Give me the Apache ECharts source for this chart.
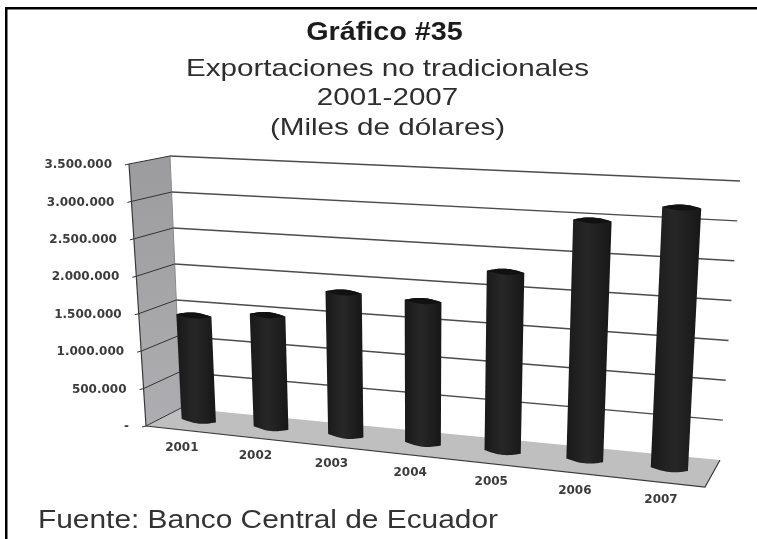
<!DOCTYPE html>
<html><head><meta charset="utf-8">
<style>html,body{margin:0;padding:0;background:#fff}#c{width:757px;height:539px;filter:blur(0.5px)}</style>
<script src="https://cdn.jsdelivr.net/npm/echarts@6/dist/echarts.min.js"></script>
</head><body><div id="c"></div>
<script>
const years = ['2001','2002','2003','2004','2005','2006','2007'];
const exportsValues = [1420000,1500000,1870000,1830000,2270000,2970000,3180000];
const tickValues = [0,500000,1000000,1500000,2000000,2500000,3000000,3500000];
const tickLabels = ['-','500.000','1.000.000','1.500.000','2.000.000','2.500.000','3.000.000','3.500.000'];
const titleText = 'Gráfico #35';
const subtitleLines = ['Exportaciones no tradicionales','2001-2007','(Miles de dólares)'];
const sourceText = 'Fuente: Banco Central de Ecuador';

// perspective box (screen corners of the chart's 3D frame)
const F00=[146,426],F10=[705,487],F01=[129,164],F11=[717,185];
const B00=[181,408],B10=[720,460],B01=[170,156],B11=[740,181];
const BAR_DEPTH=0.5;
const lerp=(a,b,k)=>[a[0]+(b[0]-a[0])*k,a[1]+(b[1]-a[1])*k];
function warp(s,t,d){
  const p=s-0.11*s*(1-s);
  const fb=lerp(F00,F10,p),ft=lerp(F01,F11,p),bb=lerp(B00,B10,p),bt=lerp(B01,B11,p);
  return lerp(lerp(fb,bb,d),lerp(ft,bt,d),t);
}
function norm(params,pt){
  const c=params.coordSys;
  return [(pt[0]-c.x)/c.width,1-(pt[1]-c.y)/c.height];
}
function renderFrame(){
  const P=warp;
  return {type:'group',children:[
    {type:'polygon',shape:{points:[P(0,1,0),P(0,1,1),P(0,0,1),P(0,0,0)]},
     style:{fill:new echarts.graphic.LinearGradient(0,0,0,1,[{offset:0,color:'#9c9c9e'},{offset:1,color:'#aeaeb2'}])}},
    {type:'polygon',shape:{points:[P(0,0,0),P(0,0,1),P(1,0,1),P(1,0,0)]},style:{fill:'#bfbfbf'}},
    {type:'polyline',shape:{points:[P(0,1,0),P(0,0,0),P(1,0,0),P(1,0,1)]},style:{stroke:'#3a3a3a',lineWidth:1.2,fill:'none'}},
    {type:'line',shape:{x1:P(0,1,1)[0],y1:P(0,1,1)[1],x2:P(0,0,1)[0],y2:P(0,0,1)[1]},style:{stroke:'#8a8a8a',lineWidth:1}}
  ]};
}
function renderGrid(params,api){
  const t=norm(params,api.coord([0,api.value(0)]))[1];
  const a=warp(0,t,0),b=warp(0,t,1),c=warp(1,t,1),o=[a[0]-4,a[1]+1];
  const kids=[{type:'polyline',shape:{points:[o,a,b]},style:{stroke:'#333',lineWidth:1,fill:'none'}}];
  if(t>0) kids.push({type:'line',shape:{x1:b[0],y1:b[1],x2:c[0],y2:c[1]},style:{stroke:'#4c4c4c',lineWidth:1.4}});
  kids.push({type:'text',style:{text:tickLabels[params.dataIndex],x:a[0]-17,y:a[1]+1,align:'right',verticalAlign:'middle',
    font:'bold 12px "DejaVu Sans"',fill:'#3c3c3c'}});
  return {type:'group',children:kids};
}
function renderBar(params,api){
  const i=api.value(0),v=api.value(1);
  const s=norm(params,api.coord([i,0]))[0];
  const t=norm(params,api.coord([i,v]))[1];
  const slope=1-0.11*(1-2*s);
  const hw=api.size([1,0])[0]*0.217*(1+0.1*s)/slope/params.coordSys.width;
  const bl=warp(s-hw,0,BAR_DEPTH),br=warp(s+hw,0,BAR_DEPTH),tl=warp(s-hw,t,BAR_DEPTH),tr=warp(s+hw,t,BAR_DEPTH);
  const ry=3,pts=[],top=[],N=16;
  for(let k=0;k<=N;k++){const a=k/N,x=lerp(tl,tr,a);pts.push([x[0],x[1]-ry*Math.sin(Math.PI*a)]);}
  for(let k=0;k<=N;k++){const a=k/N,x=lerp(br,bl,a);pts.push([x[0],x[1]+ry*Math.sin(Math.PI*a)]);}
  for(let k=0;k<=N;k++){const a=k/N,x=lerp(tl,tr,a);top.push([x[0],x[1]-ry*Math.sin(Math.PI*a)]);}
  for(let k=0;k<=N;k++){const a=k/N,x=lerp(tr,tl,a);top.push([x[0],x[1]+ry*Math.sin(Math.PI*a)]);}
  return {type:'group',children:[
    {type:'polygon',shape:{points:pts},style:{fill:new echarts.graphic.LinearGradient(0,0,1,0,[
      {offset:0,color:'#191919'},{offset:0.45,color:'#272727'},{offset:1,color:'#171717'}])}},
    {type:'polygon',shape:{points:top},style:{fill:'#111'}}
  ]};
}
function renderCat(params,api){
  const i=api.value(0);
  const s=norm(params,api.coord([i,0]))[0];
  const a=warp(s,0,0);
  return {type:'text',style:{text:years[i],x:a[0],y:a[1]+18,align:'center',verticalAlign:'middle',
    font:'bold 12px "DejaVu Sans"',fill:'#3c3c3c'}};
}
const wide=(text,x,y,sx,font,fill,align)=>({type:'text',x,y,scaleX:sx,z:60,
  style:{text,font,fill,textAlign:align,textVerticalAlign:'middle'}});
const chart=echarts.init(document.getElementById('c'),null,{renderer:'canvas'});
chart.setOption({
  animation:false,
  backgroundColor:'#fff',
  grid:{left:146,top:164,width:559,height:262},
  xAxis:{type:'category',data:years,show:false},
  yAxis:{type:'value',min:0,max:3500000,interval:500000,show:false},
  graphic:[
    {type:'rect',shape:{x:5,y:7,width:752,height:2.5},style:{fill:'#000'},z:50},
    {type:'rect',shape:{x:5,y:7,width:2.5,height:532},style:{fill:'#000'},z:50},
    wide(titleText,384.5,33,1.15,'bold 25px "Liberation Sans"','#1c1c1c','center'),
    wide(subtitleLines[0],387.5,69,1.233,'24px "Liberation Sans"','#2e2e2e','center'),
    wide(subtitleLines[1],387.5,98,1.233,'24px "Liberation Sans"','#2e2e2e','center'),
    wide(subtitleLines[2],387.5,128,1.233,'24px "Liberation Sans"','#2e2e2e','center'),
    wide(sourceText,38,521,1.195,'25px "Liberation Sans"','#333','left')
  ],
  series:[
    {type:'custom',coordinateSystem:'cartesian2d',clip:false,silent:true,z:1,renderItem:renderFrame,data:[[0,0]]},
    {type:'custom',coordinateSystem:'cartesian2d',clip:false,silent:true,z:2,renderItem:renderGrid,encode:{y:0},data:tickValues.map(v=>[v])},
    {type:'custom',name:'Exportaciones no tradicionales',coordinateSystem:'cartesian2d',clip:false,silent:true,z:3,renderItem:renderBar,
     encode:{x:0,y:1},data:years.map((y,i)=>[i,exportsValues[i]])},
    {type:'custom',coordinateSystem:'cartesian2d',clip:false,silent:true,z:4,renderItem:renderCat,encode:{x:0},data:years.map((y,i)=>[i])}
  ]
});
</script></body></html>
